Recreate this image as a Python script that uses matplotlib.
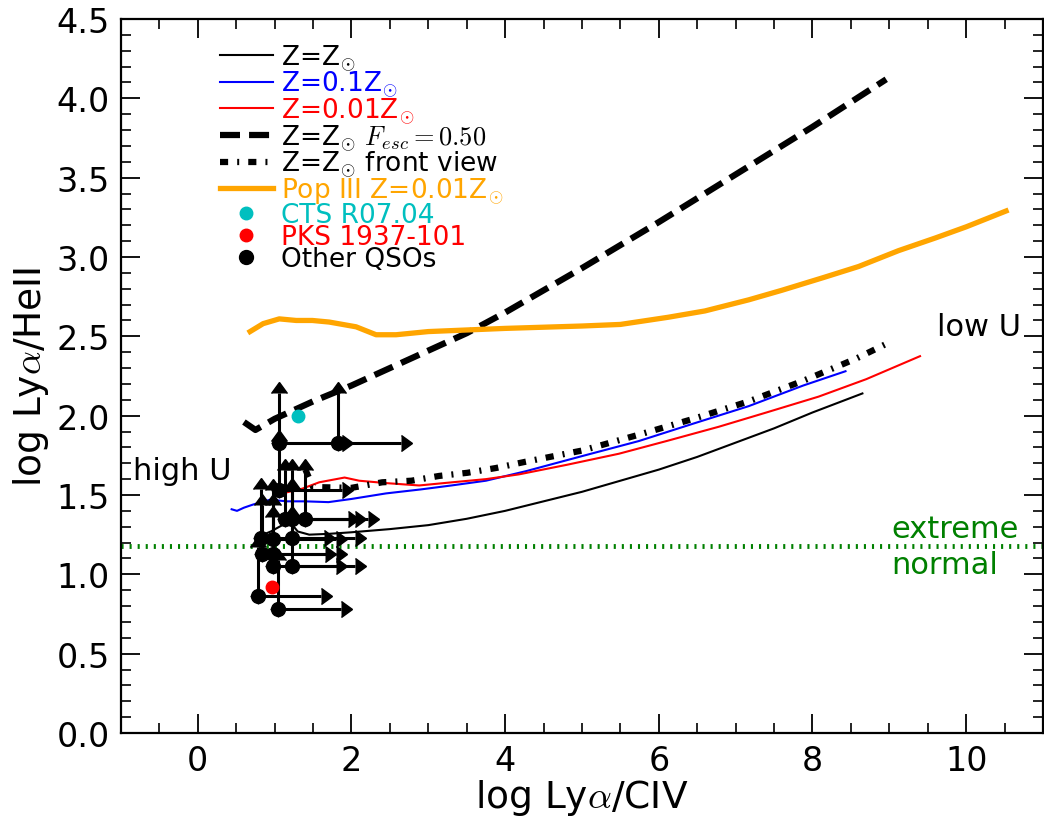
import numpy as np
import matplotlib
matplotlib.use('Agg')
import matplotlib.pyplot as plt
from matplotlib.ticker import MultipleLocator

plt.rcParams['mathtext.fontset'] = 'cm'
plt.rcParams['font.family'] = 'DejaVu Sans'

# photoionisation model tracks (log Lya/CIV, log Lya/HeII)
solar_x = [0.80, 0.95, 1.10, 1.20, 1.30, 1.45, 1.70, 2.0, 2.5, 3.0, 3.5, 4.0, 4.5,
           5.0, 5.5, 6.0, 6.5, 7.0, 7.5, 8.0, 8.65]
solar_y = [1.24, 1.27, 1.31, 1.33, 1.27, 1.25, 1.255, 1.265, 1.285, 1.31, 1.35, 1.40, 1.46,
           1.52, 1.59, 1.66, 1.74, 1.83, 1.92, 2.02, 2.14]

tenth_x = [0.44, 0.51, 0.60, 0.72, 0.94, 1.16, 1.40, 1.70, 2.00, 2.45, 2.90, 3.30, 3.75,
           4.27, 5.00, 5.74, 6.45, 7.17, 7.88, 8.43]
tenth_y = [1.41, 1.40, 1.42, 1.44, 1.47, 1.46, 1.46, 1.455, 1.475, 1.51, 1.535, 1.56, 1.59,
           1.65, 1.745, 1.84, 1.95, 2.06, 2.19, 2.28]

hundredth_x = [1.10, 1.36, 1.58, 1.91, 2.10, 2.45, 2.88, 3.31, 3.75, 4.18, 4.80, 5.48,
               6.10, 6.78, 7.40, 8.08, 8.70, 9.40]
hundredth_y = [1.51, 1.54, 1.58, 1.61, 1.59, 1.575, 1.56, 1.58, 1.60, 1.63, 1.69, 1.76,
               1.84, 1.93, 2.02, 2.12, 2.23, 2.375]

fesc_x = [0.60, 0.75, 1.00, 1.50, 2.00, 2.50, 3.00, 3.50, 4.00, 5.00, 6.00, 7.00, 8.00, 8.96]
fesc_y = [1.96, 1.91, 1.98, 2.09, 2.19, 2.30, 2.41, 2.52, 2.65, 2.93, 3.22, 3.52, 3.82, 4.12]

front_x = [1.40, 1.50, 2.00, 2.40, 2.78, 3.14, 3.51, 3.88, 4.27, 5.00, 5.74, 6.45, 7.17,
           7.88, 8.57, 8.95]
front_y = [1.66, 1.55, 1.545, 1.58, 1.59, 1.62, 1.64, 1.67, 1.71, 1.78, 1.88, 1.98, 2.09,
           2.22, 2.36, 2.45]

popiii_x = [0.68, 0.85, 1.06, 1.28, 1.49, 1.71, 2.06, 2.32, 2.58, 3.00, 4.00, 5.00, 5.50,
            6.12, 6.60, 7.17, 7.60, 8.14, 8.60, 9.12, 9.60, 10.00, 10.52]
popiii_y = [2.53, 2.58, 2.61, 2.60, 2.60, 2.59, 2.56, 2.51, 2.51, 2.53, 2.55, 2.565, 2.575,
            2.62, 2.66, 2.73, 2.79, 2.87, 2.94, 3.04, 3.12, 3.19, 3.29]

# observed objects
cts_x, cts_y = [1.30], [2.00]
pks_x, pks_y = [0.96], [0.92]
qso_x = [1.05, 1.82, 1.05, 1.13, 1.23, 1.40, 0.82, 0.98, 1.22, 0.83, 0.98, 0.98, 1.22,
         0.78, 1.04]
qso_y = [1.83, 1.83, 1.53, 1.35, 1.35, 1.35, 1.23, 1.22, 1.23, 1.13, 1.13, 1.05, 1.05,
         0.865, 0.78]

extreme_limit = 1.18

fig = plt.figure(figsize=(10.44, 8.2), dpi=100)
ax = fig.add_axes([0.1159, 0.1049, 0.8831, 0.8707])

ax.plot(solar_x, solar_y, color='k', lw=1.5, label=r'Z=Z$_{\odot}$')
ax.plot(tenth_x, tenth_y, color='b', lw=1.5, label=r'Z=0.1Z$_{\odot}$')
ax.plot(hundredth_x, hundredth_y, color='r', lw=1.5, label=r'Z=0.01Z$_{\odot}$')
ax.plot(fesc_x, fesc_y, color='k', lw=4.5, dashes=(3.2, 1.45),
        label=r'Z=Z$_{\odot}$ $F_{esc}=0.50$')
ax.plot(front_x, front_y, color='k', lw=4.5, dashes=(1.3, 1.45, 0.32, 1.45),
        label=r'Z=Z$_{\odot}$ front view')
ax.plot(popiii_x, popiii_y, color='orange', lw=3.8, label=r'Pop III Z=0.01Z$_{\odot}$')

# lower limits on both ratios
eb = ax.errorbar(qso_x, qso_y, xerr=0.82, yerr=0.31, xlolims=True, lolims=True,
                 fmt='none', ecolor='k', elinewidth=2.2, capsize=5.5, zorder=4)
for cap in eb[1]:
    cap.set_markerfacecolor('k')
    cap.set_markeredgecolor('k')
ax.plot(cts_x, cts_y, 'o', color='c', ms=9, ls='none', label='CTS R07.04', zorder=5)
ax.plot(pks_x, pks_y, 'o', color='r', ms=9, ls='none', label='PKS 1937-101', zorder=5)
ax.plot(qso_x, qso_y, 'o', color='k', ms=10, ls='none', label='Other QSOs', zorder=5)

ax.axhline(extreme_limit, color='green', lw=3.5, dashes=(0.43, 1.23))
ax.text(9.03, 1.235, 'extreme', color='green', fontsize=22)
ax.text(9.03, 1.01, 'normal', color='green', fontsize=22)
ax.text(-0.84, 1.60, 'high U', fontsize=22)
ax.text(9.62, 2.51, 'low U', fontsize=22)

ax.set_xlim(-1, 11)
ax.set_ylim(0, 4.5)
ax.xaxis.set_major_locator(MultipleLocator(2))
ax.xaxis.set_minor_locator(MultipleLocator(0.5))
ax.yaxis.set_major_locator(MultipleLocator(0.5))
ax.yaxis.set_minor_locator(MultipleLocator(0.1))
ax.tick_params(which='both', direction='in', top=True, right=True, labelsize=24, pad=8)
ax.tick_params(which='major', length=14, width=1.3)
ax.tick_params(which='minor', length=7, width=1.2)
for sp in ax.spines.values():
    sp.set_linewidth(1.6)

ax.set_xlabel(r'log Ly$\alpha$/CIV', fontsize=27, labelpad=0)
ax.set_ylabel(r'log Ly$\alpha$/HeII', fontsize=27, labelpad=4)

ax.legend(loc='upper left', bbox_to_anchor=(0.09, 0.99), frameon=False, fontsize=19,
          labelcolor='linecolor', numpoints=1, labelspacing=-0.15, handlelength=2.0,
          handletextpad=0.3, borderaxespad=0.2)

fig.savefig('out.png', dpi=100)
